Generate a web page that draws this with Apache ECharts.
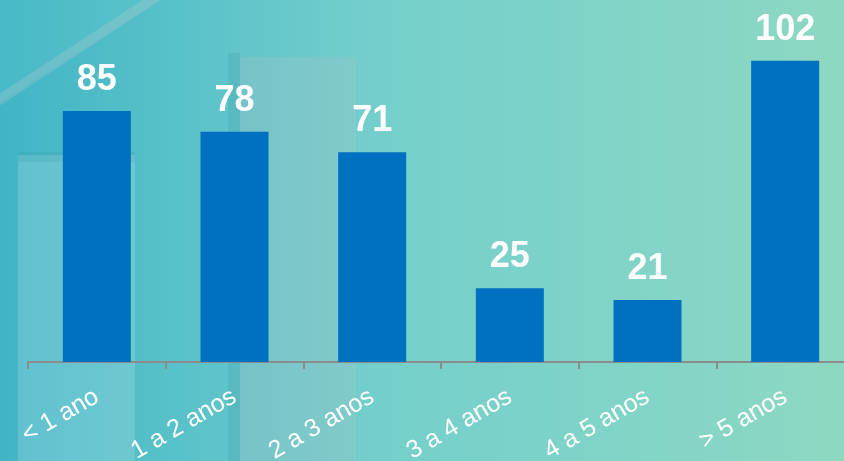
<!DOCTYPE html>
<html>
<head>
<meta charset="utf-8">
<script src="https://cdn.jsdelivr.net/npm/echarts@6/dist/echarts.min.js"></script>
<style>
  html, body { margin: 0; padding: 0; }
  #chart { width: 844px; height: 461px; }
</style>
</head>
<body>
<div id="chart"></div>
<script>
// dados do gráfico
const categories = ['< 1 ano', '1 a 2 anos', '2 a 3 anos', '3 a 4 anos', '4 a 5 anos', '> 5 anos'];
const values = [85, 78, 71, 25, 21, 102];

const chart = echarts.init(document.getElementById('chart'));

const option = {
    backgroundColor: new echarts.graphic.LinearGradient(0, 0, 1, 0, [
        { offset: 0, color: '#41b5c6' },
        { offset: 0.45, color: '#74cfcc' },
        { offset: 1, color: '#8dd8c2' }
    ]),
    // formas decorativas do fundo
    graphic: [
        {
            type: 'polygon', silent: true, z: -2,
            shape: { points: [[0, 0], [160, 0], [0, 102]] },
            style: { fill: 'rgba(120,220,215,0.12)' }
        },
        {
            type: 'line', silent: true, z: -1,
            shape: { x1: -10, y1: 106, x2: 170, y2: -12 },
            style: { stroke: 'rgba(190,200,210,0.28)', lineWidth: 10 }
        },
        {
            type: 'rect', silent: true, z: -1,
            shape: { x: 18, y: 155, width: 117, height: 306 },
            style: { fill: 'rgba(255,255,255,0.16)' }
        },
        {
            type: 'rect', silent: true, z: -1,
            shape: { x: 18, y: 152, width: 117, height: 10 },
            style: { fill: 'rgba(0,80,100,0.07)' }
        },
        {
            type: 'rect', silent: true, z: -1,
            shape: { x: 228, y: 53, width: 12, height: 408 },
            style: { fill: 'rgba(0,70,90,0.08)' }
        },
        {
            type: 'rect', silent: true, z: -1,
            shape: { x: 240, y: 57, width: 116, height: 404 },
            style: { fill: 'rgba(190,190,200,0.22)' }
        }
    ],
    grid: {
        left: 28,
        top: 0,
        width: 826, // o eixo passa da borda direita
        height: 362,
        containLabel: false,
        outerBoundsMode: 'none'
    },
    xAxis: {
        type: 'category',
        data: categories,
        axisLine: {
            lineStyle: { color: '#8c8c8c', width: 2 }
        },
        axisTick: {
            show: true,
            alignWithLabel: false,
            length: 7,
            lineStyle: { color: '#8c8c8c', width: 2 }
        },
        axisLabel: {
            rotate: 30,
            margin: 33,
            color: '#ffffff',
            fontSize: 25,
            fontFamily: 'Liberation Sans, Arial, sans-serif'
        }
    },
    yAxis: {
        type: 'value',
        min: 0,
        max: 122.6,
        show: false,
        splitLine: { show: false }
    },
    series: [
        {
            type: 'bar',
            data: values,
            barWidth: 68,
            itemStyle: { color: '#0070c0' },
            label: {
                show: true,
                position: 'top',
                distance: 13,
                color: '#ffffff',
                fontSize: 36,
                fontWeight: 'bold',
                fontFamily: 'Liberation Sans, Arial, sans-serif'
            }
        }
    ]
};

chart.setOption(option);
</script>
</body>
</html>
